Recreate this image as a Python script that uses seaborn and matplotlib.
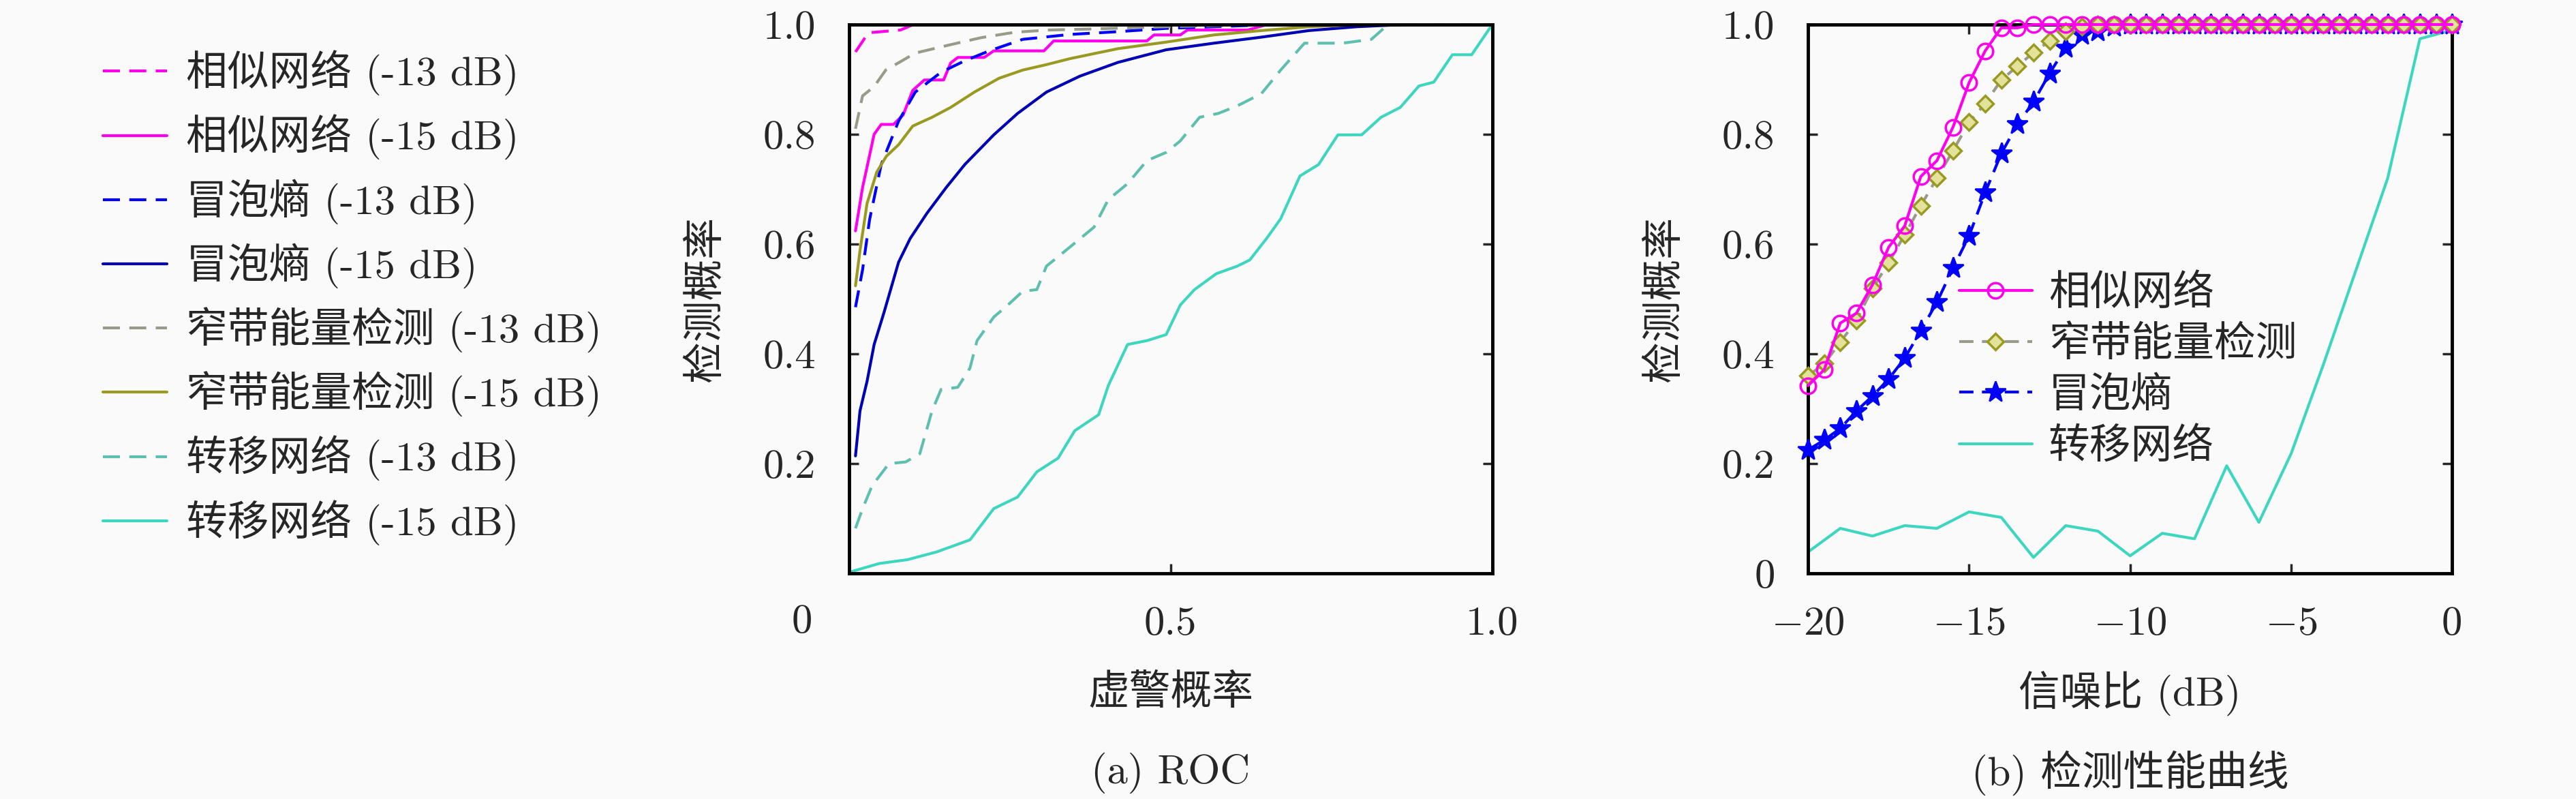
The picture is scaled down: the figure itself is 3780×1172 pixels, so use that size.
import seaborn as sns
import matplotlib.pyplot as plt
import pandas as pd
import numpy as np

# ---- (a) ROC curves: false alarm rate vs detection rate ----
sim13_fpr = [0.01, 0.03, 0.08, 0.10, 1.0]
sim13_pd = [0.95, 0.985, 0.99, 1.0, 1.0]

sim15_fpr = [0.01, 0.021, 0.039, 0.05, 0.069, 0.084, 0.099, 0.117, 0.147, 0.158, 0.169, 0.21, 0.225,
             0.303, 0.318, 0.463, 0.474, 0.515, 0.526, 0.62, 0.65, 1.0]
sim15_pd = [0.624, 0.703, 0.80, 0.818, 0.818, 0.835, 0.88, 0.899, 0.899, 0.93, 0.94, 0.94, 0.952,
            0.952, 0.97, 0.97, 0.981, 0.981, 0.99, 0.99, 1.0, 1.0]

bub13_fpr = [0.01, 0.021, 0.032, 0.05, 0.077, 0.103, 0.143, 0.18, 0.218, 0.27, 0.344, 0.418, 0.493,
             0.567, 0.64, 0.70, 1.0]
bub13_pd = [0.485, 0.553, 0.645, 0.745, 0.824, 0.877, 0.913, 0.934, 0.952, 0.973, 0.982, 0.987, 0.993,
            0.996, 0.999, 1.0, 1.0]

bub15_fpr = [0.01, 0.017, 0.028, 0.039, 0.054, 0.077, 0.095, 0.121, 0.151, 0.18, 0.225, 0.262, 0.307,
             0.359, 0.418, 0.493, 0.567, 0.641, 0.715, 0.79, 0.864, 1.0]
bub15_pd = [0.214, 0.296, 0.35, 0.417, 0.474, 0.567, 0.61, 0.656, 0.703, 0.745, 0.799, 0.838, 0.877,
            0.906, 0.931, 0.954, 0.966, 0.977, 0.989, 0.996, 1.0, 1.0]

nb13_fpr = [0.01, 0.021, 0.039, 0.057, 0.078, 0.103, 0.153, 0.205, 0.258, 0.311, 0.381, 0.493, 0.604,
            0.70, 1.0]
nb13_pd = [0.81, 0.87, 0.887, 0.917, 0.931, 0.948, 0.962, 0.976, 0.986, 0.99, 0.992, 0.996, 0.999,
           1.0, 1.0]

nb15_fpr = [0.01, 0.017, 0.028, 0.043, 0.058, 0.077, 0.099, 0.129, 0.158, 0.195, 0.233, 0.27, 0.307,
            0.344, 0.418, 0.493, 0.567, 0.641, 0.715, 0.80, 1.0]
nb15_pd = [0.524, 0.588, 0.674, 0.731, 0.76, 0.781, 0.815, 0.831, 0.849, 0.877, 0.902, 0.917, 0.927,
           0.938, 0.956, 0.968, 0.981, 0.989, 0.996, 1.0, 1.0]

tr13_fpr = [0.01, 0.021, 0.036, 0.062, 0.088, 0.11, 0.129, 0.143, 0.169, 0.188, 0.199, 0.225, 0.247,
            0.27, 0.292, 0.307, 0.322, 0.348, 0.381, 0.403, 0.433, 0.463, 0.493, 0.515, 0.545, 0.574,
            0.604, 0.641, 0.671, 0.708, 0.767, 0.812, 0.838, 1.0]
tr13_pd = [0.082, 0.118, 0.16, 0.20, 0.203, 0.218, 0.296, 0.335, 0.339, 0.374, 0.424, 0.467, 0.489,
           0.514, 0.517, 0.56, 0.574, 0.599, 0.631, 0.681, 0.71, 0.752, 0.767, 0.788, 0.831, 0.838,
           0.852, 0.874, 0.917, 0.966, 0.966, 0.973, 1.0, 1.0]

tr15_fpr = [0.0, 0.047, 0.091, 0.136, 0.188, 0.225, 0.262, 0.292, 0.325, 0.351, 0.388, 0.403, 0.433,
            0.463, 0.493, 0.515, 0.537, 0.571, 0.604, 0.623, 0.649, 0.671, 0.701, 0.73, 0.76, 0.797,
            0.827, 0.857, 0.886, 0.909, 0.938, 0.968, 1.0]
tr15_pd = [0.002, 0.018, 0.025, 0.039, 0.061, 0.118, 0.139, 0.185, 0.21, 0.26, 0.289, 0.342, 0.417,
           0.424, 0.435, 0.489, 0.517, 0.546, 0.56, 0.571, 0.61, 0.646, 0.724, 0.745, 0.799, 0.799,
           0.831, 0.849, 0.888, 0.895, 0.945, 0.945, 1.0]

# ---- (b) detection performance vs SNR ----
snr_fine = np.arange(-20, 0.01, 0.5)
sim_pd = [0.342, 0.371, 0.456, 0.474, 0.526, 0.594, 0.633, 0.723, 0.752, 0.813, 0.894, 0.952, 0.994,
          0.994] + [1.0] * 27
nb_pd = [0.36, 0.382, 0.421, 0.461, 0.519, 0.566, 0.617, 0.670, 0.720, 0.770, 0.822, 0.856, 0.899,
         0.924, 0.949, 0.970, 0.988, 0.996] + [1.0] * 23
bub_pd = [0.225, 0.243, 0.264, 0.296, 0.323, 0.354, 0.392, 0.442, 0.494, 0.556, 0.615, 0.694, 0.765,
          0.818, 0.859, 0.911, 0.958, 0.981, 0.988, 0.996] + [1.0] * 21
snr_coarse = np.arange(-20, 1, 1)
tr_pd = [0.039, 0.082, 0.068, 0.087, 0.082, 0.112, 0.102, 0.029, 0.087, 0.077, 0.032, 0.073, 0.063,
         0.196, 0.093, 0.218, 0.38, 0.55, 0.72, 0.974, 0.99]

MAG = '#ff00ee'
BLUE = '#0000ff'
DBLUE = '#0000b4'
GRAY = '#9a9a88'
OLIVE = '#9a9a22'
TEAL13 = '#5fbfae'
TEAL15 = '#3fd6c0'
BG = '#fafafa'

sns.set_theme(style='ticks')
plt.rcParams['font.family'] = ['cmr10', 'Noto Sans CJK SC', 'DejaVu Sans']
plt.rcParams['mathtext.fontset'] = 'cm'
plt.rcParams['axes.unicode_minus'] = False
FS = 17.5

fig = plt.figure(figsize=(15.12, 4.688), dpi=250, facecolor=BG)
ax1 = fig.add_axes([0.3296, 0.2824, 0.2497, 0.6869], facecolor=BG)
ax2 = fig.add_axes([0.7019, 0.2824, 0.2500, 0.6869], facecolor=BG)

dash = (6, 3.3)
lw = 1.2
roc = [
    (sim13_fpr, sim13_pd, MAG, dash, '相似网络 (-13 dB)'),
    (sim15_fpr, sim15_pd, MAG, None, '相似网络 (-15 dB)'),
    (bub13_fpr, bub13_pd, BLUE, dash, '冒泡熵 (-13 dB)'),
    (bub15_fpr, bub15_pd, DBLUE, None, '冒泡熵 (-15 dB)'),
    (nb13_fpr, nb13_pd, GRAY, dash, '窄带能量检测 (-13 dB)'),
    (nb15_fpr, nb15_pd, OLIVE, None, '窄带能量检测 (-15 dB)'),
    (tr13_fpr, tr13_pd, TEAL13, dash, '转移网络 (-13 dB)'),
    (tr15_fpr, tr15_pd, TEAL15, None, '转移网络 (-15 dB)'),
]
for xs, ys, c, d, lab in roc:
    kw = dict(dashes=d) if d else {}
    sns.lineplot(x=xs, y=ys, ax=ax1, color=c, lw=lw, sort=False, estimator=None,
                 label=lab, legend=False, **kw)

ax1.set_xlim(0, 1)
ax1.set_ylim(0, 1)
ax1.set_xticks([0.5, 1.0])
ax1.set_xticklabels(['0.5', '1.0'])
ax1.set_yticks([0.2, 0.4, 0.6, 0.8, 1.0])
ax1.set_yticklabels(['0.2', '0.4', '0.6', '0.8', '1.0'])
ax1.text(-0.073, -0.089, '0', transform=ax1.transAxes, ha='center', va='center', fontsize=FS)
ax1.set_xlabel('虚警概率', fontsize=FS)
ax1.set_ylabel('检测概率', fontsize=FS)
ax1.text(0.5, -0.363, '(a) ROC', transform=ax1.transAxes, ha='center', va='center', fontsize=FS)

h, l = ax1.get_legend_handles_labels()
fig.legend(h, l, loc='upper left', bbox_to_anchor=(0.040, 0.937), frameon=False, fontsize=FS,
           handlelength=1.55, handletextpad=0.45, labelspacing=0.45, borderpad=0, borderaxespad=0)

# (b)
sns.lineplot(x=snr_coarse, y=tr_pd, ax=ax2, color=TEAL15, lw=lw, label='转移网络', legend=False)
sns.lineplot(x=snr_fine, y=bub_pd, ax=ax2, color=BLUE, lw=lw, dashes=(5, 3), marker='*', ms=9,
             mfc=BLUE, mec=BLUE, label='冒泡熵', legend=False, clip_on=False, zorder=3)
sns.lineplot(x=snr_fine, y=nb_pd, ax=ax2, color=GRAY, lw=lw, dashes=(5, 3), marker='D', ms=5,
             mfc='#e2e29a', mec=OLIVE, mew=1.0, label='窄带能量检测', legend=False, clip_on=False,
             zorder=4)
sns.lineplot(x=snr_fine, y=sim_pd, ax=ax2, color=MAG, lw=lw, marker='o', ms=6.5, mfc='none',
             mec=MAG, mew=1.0, label='相似网络', legend=False, clip_on=False, zorder=5)

ax2.set_xlim(-20, 0)
ax2.set_ylim(0, 1)
ax2.set_xticks([-20, -15, -10, -5, 0])
ax2.set_xticklabels(['$-20$', '$-15$', '$-10$', '$-5$', '0'])
ax2.set_yticks([0, 0.2, 0.4, 0.6, 0.8, 1.0])
ax2.set_yticklabels(['0', '0.2', '0.4', '0.6', '0.8', '1.0'])
ax2.set_xlabel('信噪比 (dB)', fontsize=FS)
ax2.set_ylabel('检测概率', fontsize=FS)
ax2.text(0.5, -0.363, '(b) 检测性能曲线', transform=ax2.transAxes, ha='center', va='center', fontsize=FS)

h2, l2 = ax2.get_legend_handles_labels()
order = [3, 2, 1, 0]
ax2.legend([h2[i] for i in order], [l2[i] for i in order], loc='upper left',
           bbox_to_anchor=(0.235, 0.545), frameon=False, fontsize=FS, numpoints=1,
           handlelength=1.75, handletextpad=0.4, labelspacing=0.3, borderpad=0, borderaxespad=0)

for ax in (ax1, ax2):
    ax.tick_params(direction='in', top=True, right=True, length=4, width=1.0, pad=14, labelsize=FS)
    for s in ax.spines.values():
        s.set_linewidth(1.4)
        s.set_color('black')
    ax.xaxis.set_label_coords(0.5, -0.2186)
    ax.xaxis.label.set_va('center')
    ax.yaxis.set_label_coords(-0.2225, 0.5)
    ax.yaxis.label.set_va('center')

fig.savefig('out.png', dpi=250, facecolor=BG)
